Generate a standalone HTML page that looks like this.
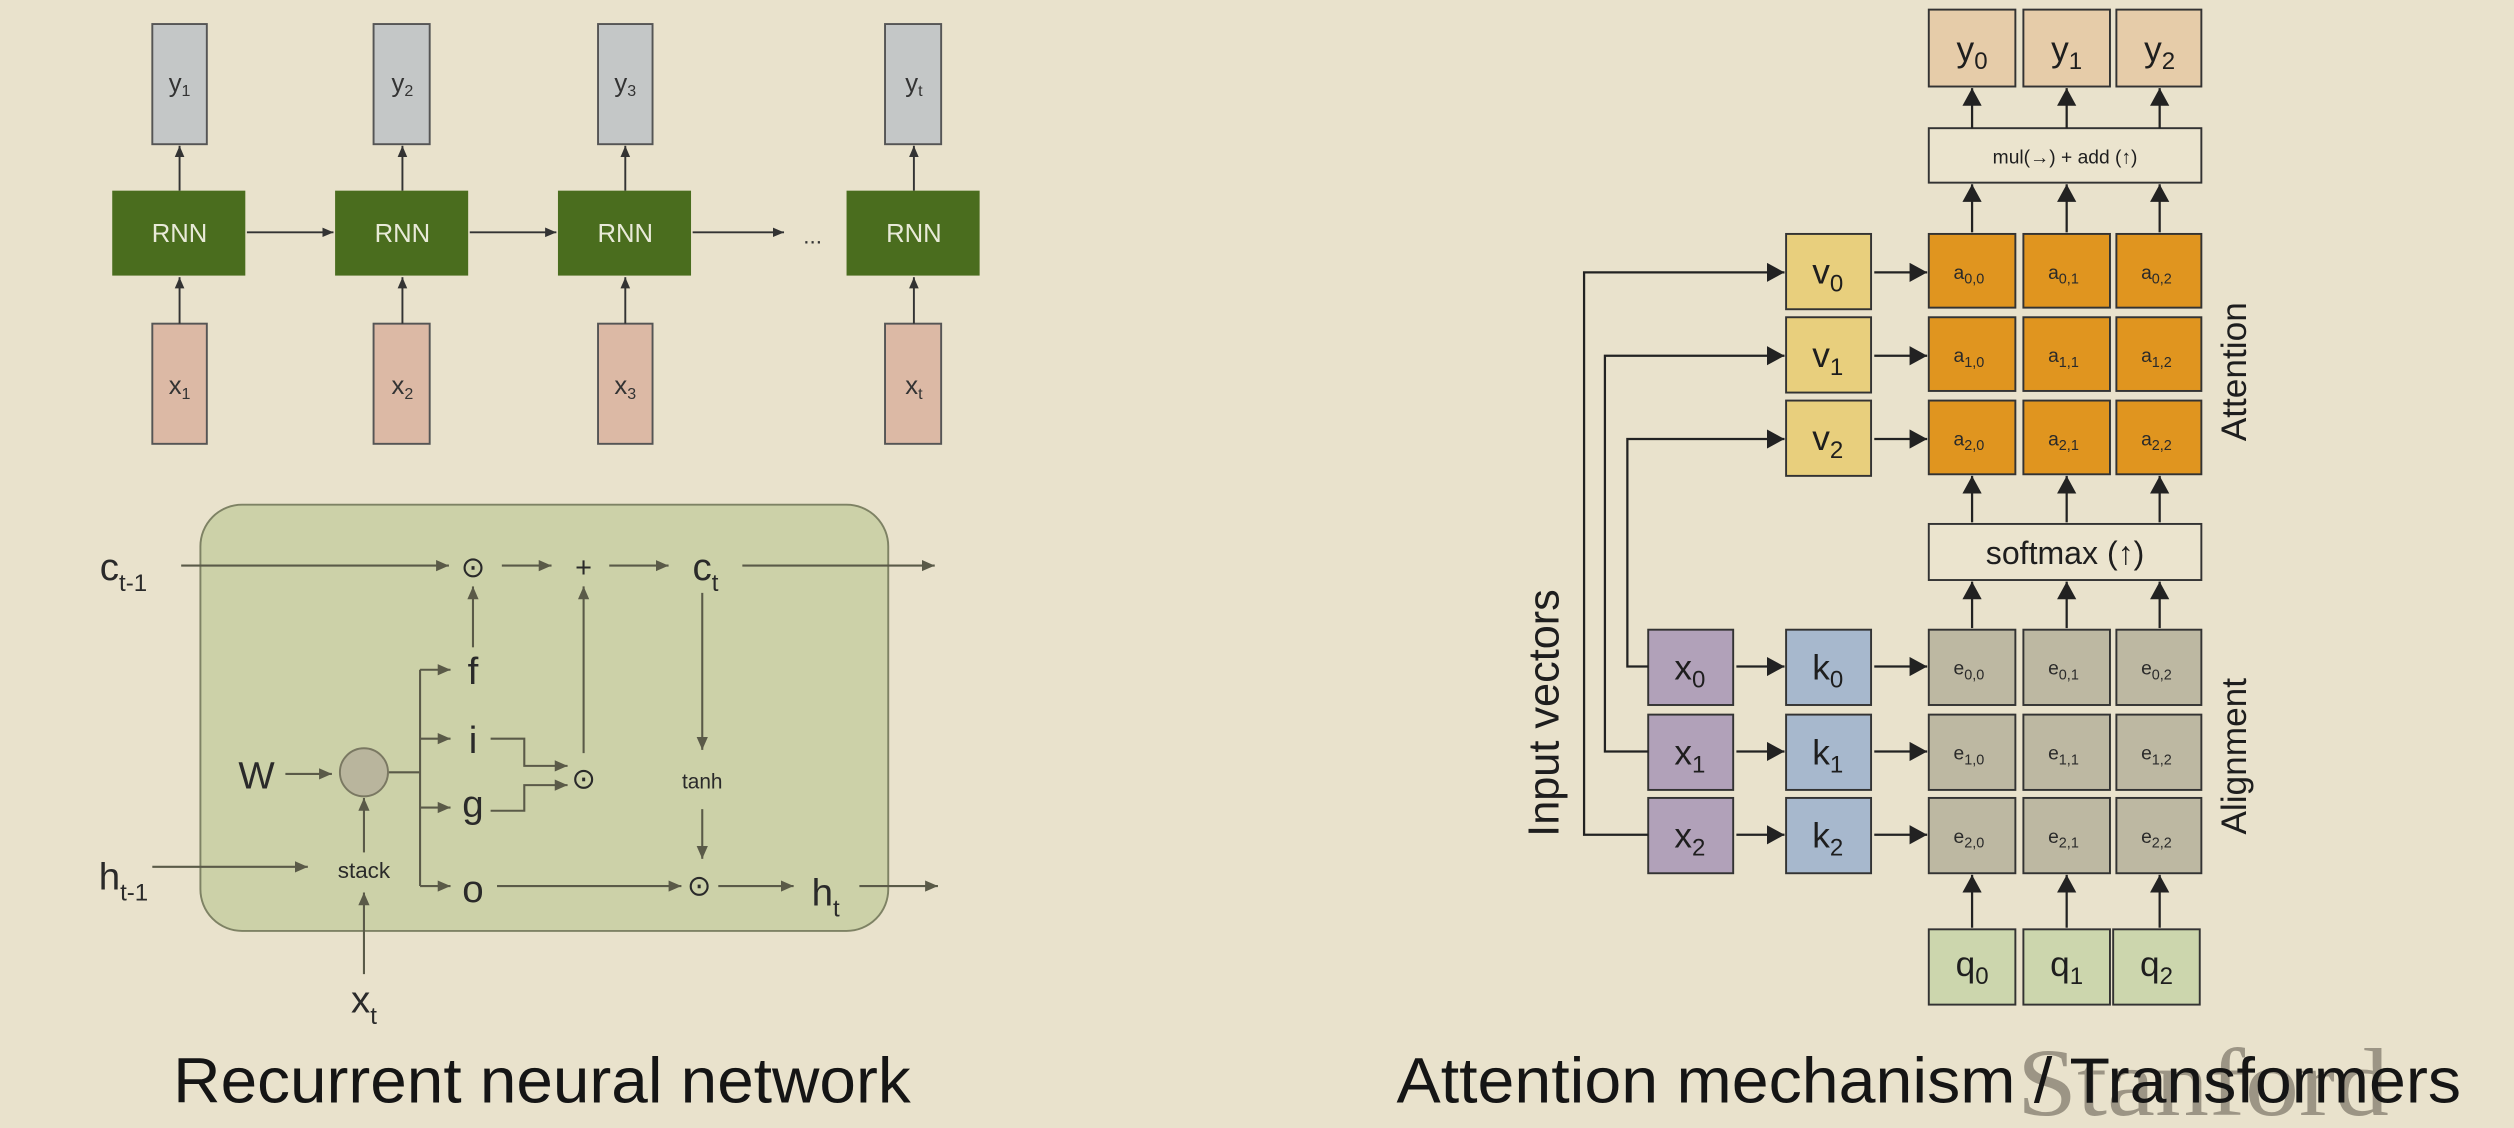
<!DOCTYPE html>
<html><head><meta charset="utf-8"><style>
html,body{margin:0;padding:0;background:#e9e2cc;}
svg{display:block;}
text{font-family:"Liberation Sans",Arial,sans-serif;}
</style></head><body>
<svg width="2514" height="1128" viewBox="0 0 1568 704" preserveAspectRatio="none" xmlns="http://www.w3.org/2000/svg">
<defs>
<marker id="a" markerWidth="8" markerHeight="8" refX="7" refY="4" orient="auto" markerUnits="userSpaceOnUse"><path d="M0,1 L7,4 L0,7 Z" fill="#333"/></marker>
<marker id="g" markerWidth="9" markerHeight="8" refX="8" refY="4" orient="auto" markerUnits="userSpaceOnUse"><path d="M0,0.5 L8,4 L0,7.5 Z" fill="#5a5a48"/></marker>
<marker id="b" markerWidth="12" markerHeight="12" refX="11" refY="6" orient="auto" markerUnits="userSpaceOnUse"><path d="M0,0 L11,6 L0,12 Z" fill="#222"/></marker>
</defs>
<rect width="1568" height="704" fill="#e9e2cc"/>

<!-- RNN unrolled -->
<g stroke="#555" stroke-width="1.2">
<rect x="95" y="15" width="34" height="75" fill="#c4c7c7"/>
<rect x="233" y="15" width="35" height="75" fill="#c4c7c7"/>
<rect x="373" y="15" width="34" height="75" fill="#c4c7c7"/>
<rect x="552" y="15" width="35" height="75" fill="#c4c7c7"/>
<rect x="95" y="202" width="34" height="75" fill="#dcb9a5"/>
<rect x="233" y="202" width="35" height="75" fill="#dcb9a5"/>
<rect x="373" y="202" width="34" height="75" fill="#dcb9a5"/>
<rect x="552" y="202" width="35" height="75" fill="#dcb9a5"/>
</g>
<g fill="#4a6d1e">
<rect x="70" y="119" width="83" height="53"/>
<rect x="209" y="119" width="83" height="53"/>
<rect x="348" y="119" width="83" height="53"/>
<rect x="528" y="119" width="83" height="53"/>
</g>
<g fill="#e8ead8" font-size="16" text-anchor="middle">
<text x="112" y="151">RNN</text><text x="251" y="151">RNN</text><text x="390" y="151">RNN</text><text x="570" y="151">RNN</text>
</g>
<g stroke="#333" stroke-width="1.2" marker-end="url(#a)">
<line x1="112" y1="119" x2="112" y2="91"/><line x1="251" y1="119" x2="251" y2="91"/><line x1="390" y1="119" x2="390" y2="91"/><line x1="570" y1="119" x2="570" y2="91"/>
<line x1="112" y1="202" x2="112" y2="173"/><line x1="251" y1="202" x2="251" y2="173"/><line x1="390" y1="202" x2="390" y2="173"/><line x1="570" y1="202" x2="570" y2="173"/>
<line x1="154" y1="145" x2="208" y2="145"/><line x1="293" y1="145" x2="347" y2="145"/><line x1="432" y1="145" x2="489" y2="145"/>
</g>
<text x="501" y="152" font-size="14" fill="#333">...</text>
<g font-size="16" fill="#333" text-anchor="middle">
<text x="112" y="57">y<tspan font-size="10" dy="3">1</tspan></text>
<text x="251" y="57">y<tspan font-size="10" dy="3">2</tspan></text>
<text x="390" y="57">y<tspan font-size="10" dy="3">3</tspan></text>
<text x="570" y="57">y<tspan font-size="10" dy="3">t</tspan></text>
<text x="112" y="246">x<tspan font-size="10" dy="3">1</tspan></text>
<text x="251" y="246">x<tspan font-size="10" dy="3">2</tspan></text>
<text x="390" y="246">x<tspan font-size="10" dy="3">3</tspan></text>
<text x="570" y="246">x<tspan font-size="10" dy="3">t</tspan></text>
</g>

<!-- LSTM -->
<rect x="125" y="315" width="429" height="266" rx="26" fill="#ccd1a8" stroke="#7e8264" stroke-width="1.2"/>
<g stroke="#5a5a48" stroke-width="1.3" fill="none">
<line x1="113" y1="353" x2="280" y2="353" marker-end="url(#g)"/>
<line x1="313" y1="353" x2="344" y2="353" marker-end="url(#g)"/>
<line x1="380" y1="353" x2="417" y2="353" marker-end="url(#g)"/>
<line x1="463" y1="353" x2="583" y2="353" marker-end="url(#g)"/>
<line x1="295" y1="404" x2="295" y2="366" marker-end="url(#g)"/>
<line x1="364" y1="470" x2="364" y2="366" marker-end="url(#g)"/>
<polyline points="262,418 262,553"/>
<line x1="262" y1="418" x2="281" y2="418" marker-end="url(#g)"/>
<line x1="262" y1="461" x2="281" y2="461" marker-end="url(#g)"/>
<line x1="262" y1="504" x2="281" y2="504" marker-end="url(#g)"/>
<line x1="262" y1="553" x2="281" y2="553" marker-end="url(#g)"/>
<line x1="242" y1="482" x2="262" y2="482"/>
<line x1="178" y1="483" x2="207" y2="483" marker-end="url(#g)"/>
<line x1="227" y1="532" x2="227" y2="498" marker-end="url(#g)"/>
<line x1="227" y1="608" x2="227" y2="557" marker-end="url(#g)"/>
<line x1="95" y1="541" x2="192" y2="541" marker-end="url(#g)"/>
<polyline points="306,461 327,461 327,478 354,478" marker-end="url(#g)"/>
<polyline points="306,506 327,506 327,490 354,490" marker-end="url(#g)"/>
<line x1="438" y1="370" x2="438" y2="468" marker-end="url(#g)"/>
<line x1="438" y1="505" x2="438" y2="536" marker-end="url(#g)"/>
<line x1="310" y1="553" x2="425" y2="553" marker-end="url(#g)"/>
<line x1="448" y1="553" x2="495" y2="553" marker-end="url(#g)"/>
<line x1="536" y1="553" x2="585" y2="553" marker-end="url(#g)"/>
</g>
<circle cx="227" cy="482" r="15" fill="#b9b59d" stroke="#7a7862" stroke-width="1.2"/>
<g fill="#2a2a2a" font-size="24" text-anchor="middle">
<text x="77" y="362">c<tspan font-size="15" dy="7">t-1</tspan></text>
<text x="77" y="555">h<tspan font-size="15" dy="7">t-1</tspan></text>
<text x="440" y="362">c<tspan font-size="15" dy="7">t</tspan></text>
<text x="515" y="565">h<tspan font-size="15" dy="7">t</tspan></text>
<text x="227" y="632">x<tspan font-size="15" dy="7">t</tspan></text>
<text x="160" y="492">W</text>
<text x="295" y="427">f</text>
<text x="295" y="470">i</text>
<text x="295" y="510">g</text>
<text x="295" y="563">o</text>
<text x="364" y="360" font-size="18">+</text>
<text x="295" y="360" font-size="18">⊙</text>
<text x="364" y="492" font-size="18">⊙</text>
<text x="436" y="559" font-size="18">⊙</text>
<text x="438" y="492" font-size="13">tanh</text>
<text x="227" y="548" font-size="14">stack</text>
</g>
<text x="108" y="688" font-size="40" textLength="460" lengthAdjust="spacingAndGlyphs" fill="#151515">Recurrent neural network</text>

<!-- Attention -->
<text x="1258" y="696" style="font-family:'Liberation Serif',serif" font-size="60" textLength="232" lengthAdjust="spacingAndGlyphs" fill="#9c9585">Stanford</text>
<g stroke="#333" stroke-width="1.2">
<rect x="1203" y="6" width="54" height="48" fill="#e6cca9"/>
<rect x="1262" y="6" width="54" height="48" fill="#e6cca9"/>
<rect x="1320" y="6" width="53" height="48" fill="#e6cca9"/>
<rect x="1203" y="80" width="170" height="34" fill="#ebe4ce"/>
<rect x="1203" y="327" width="170" height="35" fill="#ebe4ce"/>
</g>
<g stroke="#333" stroke-width="1.2">
<g fill="#e0951f">
<rect x="1203" y="146" width="54" height="46"/><rect x="1262" y="146" width="54" height="46"/><rect x="1320" y="146" width="53" height="46"/>
<rect x="1203" y="198" width="54" height="46"/><rect x="1262" y="198" width="54" height="46"/><rect x="1320" y="198" width="53" height="46"/>
<rect x="1203" y="250" width="54" height="46"/><rect x="1262" y="250" width="54" height="46"/><rect x="1320" y="250" width="53" height="46"/>
</g>
<g fill="#bdb8a2">
<rect x="1203" y="393" width="54" height="47"/><rect x="1262" y="393" width="54" height="47"/><rect x="1320" y="393" width="53" height="47"/>
<rect x="1203" y="446" width="54" height="47"/><rect x="1262" y="446" width="54" height="47"/><rect x="1320" y="446" width="53" height="47"/>
<rect x="1203" y="498" width="54" height="47"/><rect x="1262" y="498" width="54" height="47"/><rect x="1320" y="498" width="53" height="47"/>
</g>
<g fill="#e8cf7d">
<rect x="1114" y="146" width="53" height="47"/><rect x="1114" y="198" width="53" height="47"/><rect x="1114" y="250" width="53" height="47"/>
</g>
<g fill="#a7b8cd">
<rect x="1114" y="393" width="53" height="47"/><rect x="1114" y="446" width="53" height="47"/><rect x="1114" y="498" width="53" height="47"/>
</g>
<g fill="#b1a1b9">
<rect x="1028" y="393" width="53" height="47"/><rect x="1028" y="446" width="53" height="47"/><rect x="1028" y="498" width="53" height="47"/>
</g>
<g fill="#ccd6ad">
<rect x="1203" y="580" width="54" height="47"/><rect x="1262" y="580" width="54" height="47"/><rect x="1318" y="580" width="54" height="47"/>
</g>
</g>
<g stroke="#222" stroke-width="1.4" fill="none" marker-end="url(#b)">
<line x1="1230" y1="80" x2="1230" y2="55"/><line x1="1289" y1="80" x2="1289" y2="55"/><line x1="1347" y1="80" x2="1347" y2="55"/>
<line x1="1230" y1="145" x2="1230" y2="115"/><line x1="1289" y1="145" x2="1289" y2="115"/><line x1="1347" y1="145" x2="1347" y2="115"/>
<line x1="1230" y1="326" x2="1230" y2="297"/><line x1="1289" y1="326" x2="1289" y2="297"/><line x1="1347" y1="326" x2="1347" y2="297"/>
<line x1="1230" y1="392" x2="1230" y2="363"/><line x1="1289" y1="392" x2="1289" y2="363"/><line x1="1347" y1="392" x2="1347" y2="363"/>
<line x1="1230" y1="579" x2="1230" y2="546"/><line x1="1289" y1="579" x2="1289" y2="546"/><line x1="1347" y1="579" x2="1347" y2="546"/>
<line x1="1169" y1="170" x2="1202" y2="170"/><line x1="1169" y1="222" x2="1202" y2="222"/><line x1="1169" y1="274" x2="1202" y2="274"/>
<line x1="1169" y1="416" x2="1202" y2="416"/><line x1="1169" y1="469" x2="1202" y2="469"/><line x1="1169" y1="521" x2="1202" y2="521"/>
<line x1="1083" y1="416" x2="1113" y2="416"/><line x1="1083" y1="469" x2="1113" y2="469"/><line x1="1083" y1="521" x2="1113" y2="521"/>
<polyline points="1028,521 988,521 988,170 1113,170"/>
<polyline points="1028,469 1001,469 1001,222 1113,222"/>
<polyline points="1028,416 1015,416 1015,274 1113,274"/>
</g>
<g fill="#1e1e1e" font-size="22" text-anchor="middle">
<text x="1230" y="38">y<tspan font-size="15" dy="5">0</tspan></text>
<text x="1289" y="38">y<tspan font-size="15" dy="5">1</tspan></text>
<text x="1347" y="38">y<tspan font-size="15" dy="5">2</tspan></text>
<text x="1140" y="177">v<tspan font-size="15" dy="5">0</tspan></text>
<text x="1140" y="229">v<tspan font-size="15" dy="5">1</tspan></text>
<text x="1140" y="281">v<tspan font-size="15" dy="5">2</tspan></text>
<text x="1140" y="424">k<tspan font-size="15" dy="5">0</tspan></text>
<text x="1140" y="477">k<tspan font-size="15" dy="5">1</tspan></text>
<text x="1140" y="529">k<tspan font-size="15" dy="5">2</tspan></text>
<text x="1054" y="424">x<tspan font-size="15" dy="5">0</tspan></text>
<text x="1054" y="477">x<tspan font-size="15" dy="5">1</tspan></text>
<text x="1054" y="529">x<tspan font-size="15" dy="5">2</tspan></text>
<text x="1230" y="609">q<tspan font-size="15" dy="5">0</tspan></text>
<text x="1289" y="609">q<tspan font-size="15" dy="5">1</tspan></text>
<text x="1345" y="609">q<tspan font-size="15" dy="5">2</tspan></text>
<text x="1288" y="352" font-size="20">softmax (↑)</text>
<text x="1288" y="102" font-size="12">mul(→) + add (↑)</text>
</g>
<g fill="#2a2a2a" font-size="12" text-anchor="middle">
<text x="1228" y="174">a<tspan font-size="9" dy="3">0,0</tspan></text><text x="1287" y="174">a<tspan font-size="9" dy="3">0,1</tspan></text><text x="1345" y="174">a<tspan font-size="9" dy="3">0,2</tspan></text>
<text x="1228" y="226">a<tspan font-size="9" dy="3">1,0</tspan></text><text x="1287" y="226">a<tspan font-size="9" dy="3">1,1</tspan></text><text x="1345" y="226">a<tspan font-size="9" dy="3">1,2</tspan></text>
<text x="1228" y="278">a<tspan font-size="9" dy="3">2,0</tspan></text><text x="1287" y="278">a<tspan font-size="9" dy="3">2,1</tspan></text><text x="1345" y="278">a<tspan font-size="9" dy="3">2,2</tspan></text>
<text x="1228" y="421">e<tspan font-size="9" dy="3">0,0</tspan></text><text x="1287" y="421">e<tspan font-size="9" dy="3">0,1</tspan></text><text x="1345" y="421">e<tspan font-size="9" dy="3">0,2</tspan></text>
<text x="1228" y="474">e<tspan font-size="9" dy="3">1,0</tspan></text><text x="1287" y="474">e<tspan font-size="9" dy="3">1,1</tspan></text><text x="1345" y="474">e<tspan font-size="9" dy="3">1,2</tspan></text>
<text x="1228" y="526">e<tspan font-size="9" dy="3">2,0</tspan></text><text x="1287" y="526">e<tspan font-size="9" dy="3">2,1</tspan></text><text x="1345" y="526">e<tspan font-size="9" dy="3">2,2</tspan></text>
</g>
<text transform="translate(972,445) rotate(-90)" font-size="27" text-anchor="middle" fill="#1e1e1e">Input vectors</text>
<text transform="translate(1401,232) rotate(-90)" font-size="22" text-anchor="middle" fill="#1e1e1e">Attention</text>
<text transform="translate(1401,472) rotate(-90)" font-size="22" text-anchor="middle" fill="#1e1e1e">Alignment</text>
<text x="871" y="688" font-size="40" textLength="664" lengthAdjust="spacingAndGlyphs" fill="#151515">Attention mechanism / Transformers</text>
</svg>
</body></html>
